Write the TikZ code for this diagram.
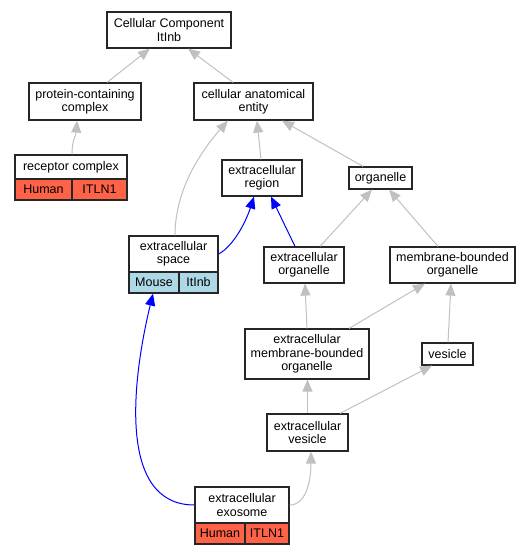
\documentclass[tikz,border=0pt]{standalone}
\usepackage{fontspec}
\setmainfont{Liberation Sans}
\usetikzlibrary{arrows.meta}
\definecolor{edgegray}{HTML}{C0C0C0}
\definecolor{human}{HTML}{FF6347}
\definecolor{mouse}{HTML}{ADD8E6}
\tikzset{
  box/.style={draw=black!85, line width=1.2pt, fill=white, inner sep=0pt, align=center,
    font=\fontsize{12.5}{13.3}\selectfont},
  hum/.style={box, fill=human},
  mou/.style={box, fill=mouse},
  gedge/.style={draw=edgegray, line width=1pt, -{Triangle[length=12pt,width=10pt]}},
  bedge/.style={draw=blue, line width=1pt, -{Triangle[length=12pt,width=10pt]}},
}
\begin{document}
\begin{tikzpicture}[x=1pt,y=-1pt]
\path[use as bounding box] (0,0) rectangle (529,555);
% nodes
\node[box, minimum width=124pt, minimum height=36pt] (cc) at (169,30) {Cellular Component\\ItInb};
\node[box, minimum width=112pt, minimum height=37pt] (pcc) at (85,101.5) {protein-containing\\complex};
\node[box, minimum width=119pt, minimum height=37pt] (cae) at (253.5,101.5) {cellular anatomical\\entity};
\node[box, minimum width=112pt, minimum height=24pt] (rc) at (71,167) {receptor complex};
\node[hum, minimum width=57pt, minimum height=21pt] (rcA) at (43.5,189.5) {Human};
\node[hum, minimum width=55pt, minimum height=21pt] (rcB) at (99.5,189.5) {ITLN1};
\node[box, minimum width=80pt, minimum height=36pt] (er) at (262,178) {extracellular\\region};
\node[box, minimum width=63pt, minimum height=22pt] (org) at (380.5,178) {organelle};
\node[box, minimum width=89pt, minimum height=36pt] (es) at (173.5,254) {extracellular\\space};
\node[mou, minimum width=50pt, minimum height=21pt] (esA) at (154,282.5) {Mouse};
\node[mou, minimum width=39pt, minimum height=21pt] (esB) at (198.5,282.5) {ItInb};
\node[box, minimum width=80pt, minimum height=36pt] (eo) at (304,265) {extracellular\\organelle};
\node[box, minimum width=125pt, minimum height=36pt] (mbo) at (452.5,265) {membrane-bounded\\organelle};
\node[box, minimum width=124pt, minimum height=50pt] (embo) at (307,354) {extracellular\\membrane-bounded\\organelle};
\node[box, minimum width=51pt, minimum height=22pt] (ves) at (447.5,354) {vesicle};
\node[box, minimum width=81pt, minimum height=37pt] (ev) at (307.5,432.5) {extracellular\\vesicle};
\node[box, minimum width=94pt, minimum height=36pt] (ex) at (242,505) {extracellular\\exosome};
\node[hum, minimum width=50pt, minimum height=21pt] (exA) at (220,533.5) {Human};
\node[hum, minimum width=44pt, minimum height=21pt] (exB) at (267,533.5) {ITLN1};
% edges
\draw[gedge] ([xshift=22pt]pcc.north) -- ([xshift=-19pt]cc.south);
\draw[gedge] ([xshift=-20.5pt]cae.north) -- ([xshift=19pt]cc.south);
\draw[gedge] ([xshift=1pt]rc.north) .. controls +(0,-15) and +(-1,15) .. ([xshift=-8pt]pcc.south);
\draw[gedge] ([xshift=1.5pt]es.north) .. controls +(0,-50) and +(-22,25) .. ([xshift=-25.5pt]cae.south);
\draw[gedge] ([xshift=-1pt]er.north) -- ([xshift=3.5pt]cae.south);
\draw[gedge] ([xshift=-17.5pt]org.north) -- ([xshift=28.5pt]cae.south);
\draw[bedge] (es.east) .. controls +(15,-8) and +(-8,25) .. ([xshift=-8pt]er.south);
\draw[bedge] ([xshift=-9pt]eo.north) -- ([xshift=9pt]er.south);
\draw[gedge] ([xshift=16pt]eo.north) -- ([xshift=-8.5pt]org.south);
\draw[gedge] ([xshift=-14.5pt]mbo.north) -- ([xshift=8.5pt]org.south);
\draw[gedge] (embo.north) -- ([xshift=1pt]eo.south);
\draw[gedge] ([xshift=42pt]embo.north) -- ([xshift=-27.5pt]mbo.south);
\draw[gedge] ([xshift=0.5pt]ves.north) -- ([xshift=-1.5pt]mbo.south);
\draw[gedge] (ev.north) -- (ev.north |- embo.south);
\draw[gedge] ([xshift=32.5pt]ev.north) -- ([xshift=-15.5pt]ves.south);
\draw[gedge] (ex.east) .. controls +(18,0) and +(0,25) .. ([xshift=3.5pt]ev.south);
\draw[bedge] (ex.west) .. controls +(-77,0) and +(-21,87) .. ([xshift=-1pt]esA.south);
\end{tikzpicture}
\end{document}
